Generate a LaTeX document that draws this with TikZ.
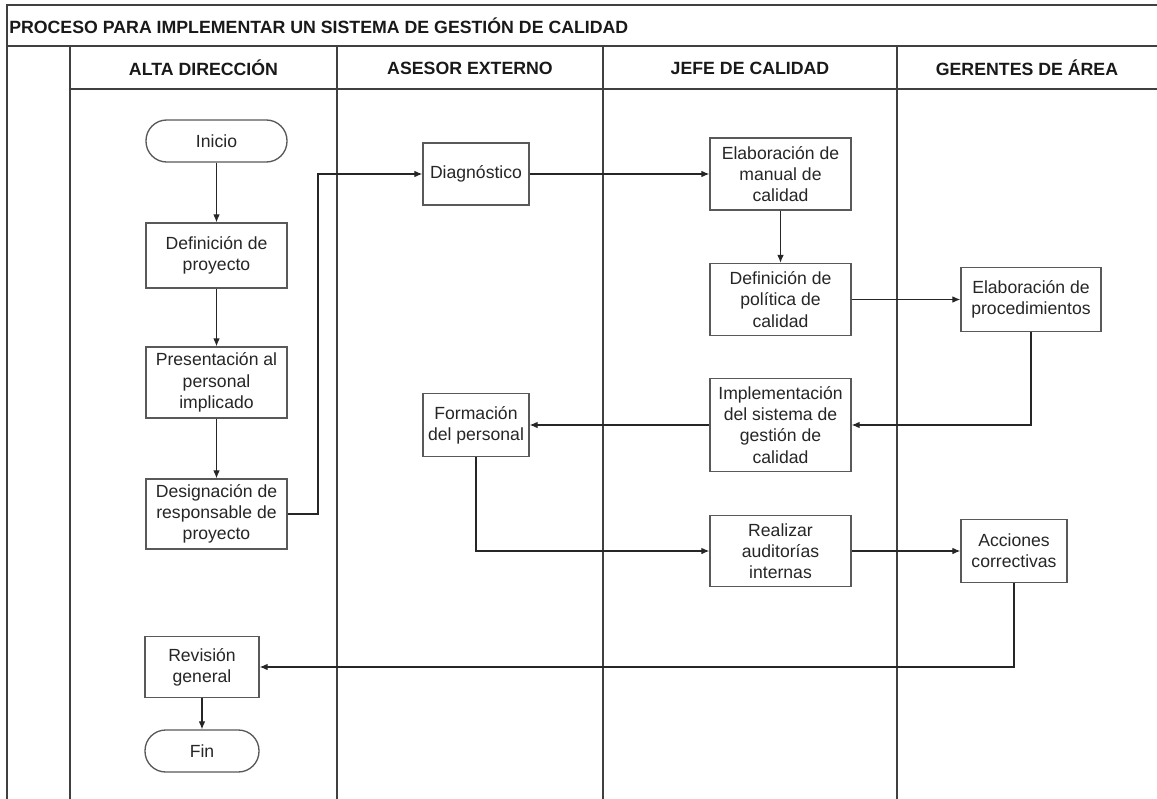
\documentclass[tikz,border=0pt]{standalone}
\usepackage{fontspec}
\setmainfont{Liberation Sans}
\usetikzlibrary{arrows.meta}
\begin{document}
\begin{tikzpicture}[x=0.75pt,y=-0.75pt,
  frame/.style={draw=black!75, line width=1.1pt},
  box/.style={draw=black!65, line width=1pt, fill=white, align=center, inner sep=1pt,
    font=\fontsize{13.2}{15.9}\selectfont, text=black!85},
  term/.style={box, rounded corners=15.5pt},
  conn/.style={draw=black!85, line width=0.9pt, -{Latex[length=6pt,width=5pt]}},
  hdr/.style={font=\bfseries\fontsize{13.3}{16}\selectfont, inner sep=0pt, text=black!90}
]
\useasboundingbox (0,0) rectangle (1157,799);
% frame
\draw[frame] (1157,5) -- (7,5) -- (7,799);
\draw[frame] (7,46) -- (1157,46);
\draw[frame] (70,89) -- (1157,89);
\foreach \x in {70,337,603,897} \draw[frame] (\x,46) -- (\x,799);
% texts
\node[hdr, anchor=west] (title) at (9,26) {PROCESO PARA IMPLEMENTAR UN SISTEMA DE GESTIÓN DE CALIDAD};
\node[hdr] (h1) at (203.5,68) {ALTA DIRECCIÓN};
\node[hdr] (h2) at (470,68) {ASESOR EXTERNO};
\node[hdr] (h3) at (750,68) {JEFE DE CALIDAD};
\node[hdr] (h4) at (1027,68) {GERENTES DE ÁREA};
% nodes
\node[term, minimum width=105.75pt, minimum height=31.5pt] (ini) at (216.5,141) {Inicio};
\node[box, minimum width=105.75pt, minimum height=48.75pt] (def) at (216.5,255.5) {Definición de\\proyecto};
\node[box, minimum width=105.75pt, minimum height=53.25pt] (pres) at (216.5,382.5) {Presentación al\\personal\\implicado};
\node[box, minimum width=105.75pt, minimum height=52.5pt] (desig) at (216.5,514) {Designación de\\responsable de\\proyecto};
\node[box, minimum width=85.5pt, minimum height=45.75pt] (rev) at (202,667) {Revisión\\general};
\node[term, minimum width=85.5pt, minimum height=31.5pt] (fin) at (202,751) {Fin};
\node[box, minimum width=79.5pt, minimum height=46.5pt] (diag) at (476,174) {Diagnóstico};
\node[box, minimum width=79.5pt, minimum height=47.25pt] (form) at (476,425) {Formación\\del personal};
\node[box, minimum width=105.75pt, minimum height=54pt] (man) at (780.5,174) {Elaboración de\\manual de\\calidad};
\node[box, minimum width=105.75pt, minimum height=54pt] (pol) at (780.5,299.5) {Definición de\\política de\\calidad};
\node[box, minimum width=105pt, minimum height=48pt] (proc) at (1031,299.5) {Elaboración de\\procedimientos};
\node[box, minimum width=105.75pt, minimum height=69.75pt] (impl) at (780.5,425) {Implementación\\del sistema de\\gestión de\\calidad};
\node[box, minimum width=105.75pt, minimum height=53.25pt] (real) at (780.5,551) {Realizar\\auditorías\\internas};
\node[box, minimum width=79.5pt, minimum height=47.25pt] (acc) at (1014,551) {Acciones\\correctivas};
% connectors
\coordinate (c1) at (318,514);
\draw[conn] (ini) -- (def);
\draw[conn] (def) -- (pres);
\draw[conn] (pres) -- (desig);
\draw[conn] (desig.east) -- (c1) |- (diag.west);
\draw[conn] (diag) -- (man);
\draw[conn] (man) -- (pol);
\draw[conn] (pol) -- (proc);
\draw[conn] (proc.south) |- (impl.east);
\draw[conn] (impl) -- (form);
\draw[conn] (form.south) |- (real.west);
\draw[conn] (real) -- (acc);
\draw[conn] (acc.south) |- (rev.east);
\draw[conn] (rev) -- (fin);
\end{tikzpicture}
\end{document}
